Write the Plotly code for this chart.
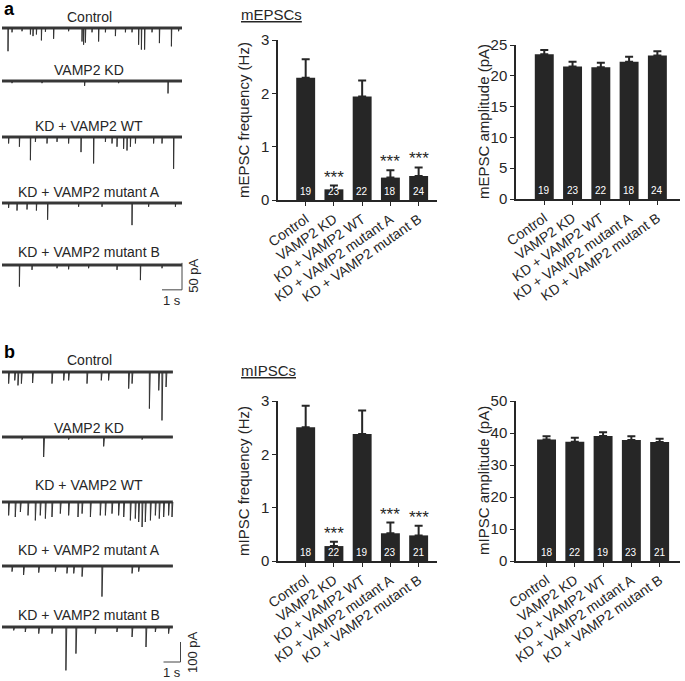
import plotly.graph_objects as go

W, H = 685, 681
FONT = "Liberation Sans, Arial, sans-serif"
INK = "#262626"

# ---------------- data ----------------
conditions = ["Control", "VAMP2 KD", "KD + VAMP2 WT", "KD + VAMP2 mutant A", "KD + VAMP2 mutant B"]

# example mEPSC recordings: event times (s) and amplitudes (pA)
mepsc_ctrl_t = [0.30, 0.50, 1.00, 1.42, 1.55, 1.72, 1.97, 2.17, 2.58, 3.33, 4.00, 4.08, 4.17, 4.50, 4.83, 5.17, 5.67, 6.17, 6.50, 6.83, 6.97, 7.13, 7.50, 7.87, 8.47, 8.83]
mepsc_ctrl_a = [43, 8, 6, 12, 15, 12, 23, 7, 20, 6, 25, 31, 27, 8, 25, 8, 15, 8, 8, 31, 40, 40, 8, 28, 34, 6]
mepsc_kd_t = [0.50, 2.00, 4.13, 5.83, 8.30]
mepsc_kd_a = [4, 4, 9, 4, 23]
mepsc_wt_t = [0.33, 0.87, 1.42, 1.67, 2.25, 2.75, 3.33, 3.95, 4.58, 5.17, 5.50, 5.75, 6.08, 6.25, 6.42, 6.67, 7.58, 8.00, 8.58]
mepsc_wt_a = [12, 18, 43, 9, 12, 9, 12, 28, 49, 9, 12, 18, 22, 25, 18, 12, 12, 12, 59]
mepsc_mutA_t = [0.33, 0.75, 1.25, 1.72, 2.28, 3.83, 5.00, 6.50, 7.33, 8.67]
mepsc_mutA_a = [9, 14, 12, 14, 31, 7, 7, 41, 7, 7]
mepsc_mutB_t = [0.87, 1.50, 2.75, 3.33, 4.33, 5.75, 6.92, 8.00]
mepsc_mutB_a = [40, 9, 6, 8, 6, 9, 28, 6]

# example mIPSC recordings: event times (s) and amplitudes (pA)
mipsc_ctrl_t = [0.39, 0.75, 0.94, 1.14, 1.80, 2.94, 3.63, 3.92, 5.00, 5.84, 6.27, 7.45, 7.65, 8.67, 9.22, 9.41, 9.65]
mipsc_ctrl_a = [58, 42, 67, 58, 55, 58, 42, 42, 58, 42, 42, 83, 58, 183, 92, 242, 75]
mipsc_kd_t = [1.18, 2.45, 3.92, 5.98, 8.24]
mipsc_kd_a = [13, 100, 13, 47, 13]
mipsc_wt_t = [0.39, 0.78, 1.08, 1.53, 1.96, 2.25, 2.55, 2.94, 3.43, 3.92, 4.47, 4.71, 5.20, 5.78, 6.08, 6.47, 6.86, 7.16, 7.55, 7.84, 8.04, 8.24, 8.43, 8.73, 9.02, 9.25, 9.51, 9.80, 10.00]
mipsc_wt_a = [67, 75, 50, 67, 92, 67, 83, 75, 58, 67, 75, 58, 75, 67, 67, 58, 67, 75, 92, 83, 100, 125, 100, 92, 67, 83, 75, 67, 75]
mipsc_mutA_t = [0.59, 1.27, 2.16, 3.14, 3.82, 4.22, 4.71, 5.88, 7.65, 8.04]
mipsc_mutA_a = [28, 45, 33, 28, 37, 37, 53, 153, 37, 28]
mipsc_mutB_t = [0.69, 1.37, 2.16, 2.94, 3.76, 4.35, 5.49, 6.76, 7.65, 8.47, 9.02, 9.80]
mipsc_mutB_a = [17, 25, 33, 33, 217, 133, 33, 25, 50, 100, 25, 33]

# summary statistics
mepsc_freq = [2.29, 0.20, 1.94, 0.42, 0.45]
mepsc_freq_err = [0.35, 0.07, 0.30, 0.14, 0.16]
mepsc_amp = [23.5, 21.5, 21.4, 22.3, 23.3]
mepsc_amp_err = [0.7, 0.8, 0.7, 0.8, 0.7]
mepsc_n = [19, 23, 22, 18, 24]

mipsc_freq = [2.51, 0.28, 2.38, 0.52, 0.48]
mipsc_freq_err = [0.40, 0.08, 0.44, 0.20, 0.18]
mipsc_amp = [38.0, 37.3, 39.1, 37.8, 37.2]
mipsc_amp_err = [1.0, 1.2, 1.1, 1.2, 1.0]
mipsc_n = [18, 22, 19, 23, 21]

significant = [False, True, False, True, True]

# ---------------- helpers ----------------
def px_x(px):
    return px / W

def px_y(py):
    return 1 - py / H

def dom_x(a, b):
    return [px_x(a), px_x(b)]

def dom_y(top, bot):
    return [px_y(bot), px_y(top)]

def recording_xy(times, amps, t_end, rise, decay):
    xs, ys = [0.0], [0.0]
    for t, a in sorted(zip(times, amps)):
        xs += [t - rise, t, t + decay]
        ys += [0.0, -a, 0.0]
    xs.append(t_end)
    ys.append(0.0)
    return xs, ys

fig = go.Figure()
layout = dict(
    width=W, height=H, autosize=False,
    margin=dict(l=0, r=0, t=0, b=0, pad=0, autoexpand=False),
    paper_bgcolor="white", plot_bgcolor="rgba(0,0,0,0)",
    showlegend=False,
    font=dict(family=FONT, color=INK, size=14),
)
annotations = []

# ---------------- example traces ----------------
rec_a = [(mepsc_ctrl_t, mepsc_ctrl_a), (mepsc_kd_t, mepsc_kd_a), (mepsc_wt_t, mepsc_wt_a),
         (mepsc_mutA_t, mepsc_mutA_a), (mepsc_mutB_t, mepsc_mutB_a)]
rec_b = [(mipsc_ctrl_t, mipsc_ctrl_a), (mipsc_kd_t, mipsc_kd_a), (mipsc_wt_t, mipsc_wt_a),
         (mipsc_mutA_t, mipsc_mutA_a), (mipsc_mutB_t, mipsc_mutB_a)]

base_a = [28, 81, 137, 203, 265]
label_a = [17, 70, 126, 192, 252]
base_b = [372, 437, 502, 566, 627]
label_b = [360, 428, 485, 550, 615]

panels = [
    dict(recs=rec_a, bases=base_a, labels=label_a, pxs=20.0, ppp=50 / 27.0, up=10, down=40,
         t_end=9.0, rise=0.004, decay=0.02, bar_len=50, bar_y=-46, bar_text="50 pA", bar_t=9.0),
    dict(recs=rec_b, bases=base_b, labels=label_b, pxs=17.0, ppp=5.0, up=10, down=52,
         t_end=10.05, rise=0.004, decay=0.05, bar_len=100, bar_y=-175, bar_text="100 pA", bar_t=10.5),
]

ax = 0
for p in panels:
    t0 = -2.0 / p["pxs"]
    t1 = t0 + 200.0 / p["pxs"]
    for i, (tt, aa) in enumerate(p["recs"]):
        ax += 1
        xn = "xaxis" if ax == 1 else f"xaxis{ax}"
        yn = "yaxis" if ax == 1 else f"yaxis{ax}"
        xr = "x" if ax == 1 else f"x{ax}"
        yr = "y" if ax == 1 else f"y{ax}"
        b = p["bases"][i]
        layout[xn] = dict(domain=dom_x(0, 200), range=[t0, t1], visible=False, anchor=yr)
        layout[yn] = dict(domain=dom_y(b - p["up"], b + p["down"]),
                          range=[-p["down"] * p["ppp"], p["up"] * p["ppp"]], visible=False, anchor=xr)
        fig.add_trace(go.Scatter(x=[0, p["t_end"]], y=[0, 0], mode="lines",
                                 line=dict(color="#3c3c3c", width=3), xaxis=xr, yaxis=yr,
                                 hoverinfo="skip"))
        xs, ys = recording_xy(tt, aa, p["t_end"], p["rise"], p["decay"])
        fig.add_trace(go.Scatter(x=xs, y=ys, mode="lines",
                                 line=dict(color="#333333", width=1), xaxis=xr, yaxis=yr,
                                 hoverinfo="skip"))
        annotations.append(dict(text=conditions[i], xref="paper", yref="paper",
                                x=px_x(89), y=px_y(p["labels"][i]), showarrow=False,
                                xanchor="center", yanchor="middle",
                                font=dict(size=14, color=INK)))
        if i == 4:
            te = p["bar_t"]
            by = p["bar_y"]
            fig.add_trace(go.Scatter(x=[te - 1, te, te], y=[by, by, by + p["bar_len"]], mode="lines",
                                     line=dict(color="#444444", width=1), xaxis=xr, yaxis=yr,
                                     hoverinfo="skip"))
            annotations.append(dict(text="1 s", xref=xr, yref=yr, x=te - 0.5, y=by,
                                    xanchor="center", yanchor="top", showarrow=False, yshift=-1,
                                    font=dict(size=13, color=INK)))
            annotations.append(dict(text=p["bar_text"], xref=xr, yref=yr, x=te,
                                    y=by + p["bar_len"] / 2, xanchor="left", yanchor="middle",
                                    showarrow=False, xshift=2, textangle=-90,
                                    font=dict(size=13, color=INK)))

# ---------------- bar charts ----------------
charts = [
    dict(vals=mepsc_freq, err=mepsc_freq_err, n=mepsc_n, stars=True, xd=(278, 437), xr=[-0.98, 4.65],
         yd=(40, 200), yr=[0, 3], dt=1, title="mEPSC frequency (Hz)", tx=243),
    dict(vals=mepsc_amp, err=mepsc_amp_err, n=mepsc_n, stars=False, xd=(516, 680), xr=[-1.0, 4.8],
         yd=(45, 199), yr=[0, 25], dt=5, title="mEPSC amplitude (pA)", tx=483),
    dict(vals=mipsc_freq, err=mipsc_freq_err, n=mipsc_n, stars=True, xd=(278, 437), xr=[-0.98, 4.65],
         yd=(401, 561), yr=[0, 3], dt=1, title="mIPSC frequency (Hz)", tx=243),
    dict(vals=mipsc_amp, err=mipsc_amp_err, n=mipsc_n, stars=False, xd=(516, 680), xr=[-1.08, 4.72],
         yd=(401, 561), yr=[0, 50], dt=10, title="mIPSC amplitude (pA)", tx=483),
]

for c in charts:
    ax += 1
    xn, yn, xr, yr = f"xaxis{ax}", f"yaxis{ax}", f"x{ax}", f"y{ax}"
    layout[xn] = dict(domain=dom_x(*c["xd"]), range=c["xr"], type="category", anchor=yr,
                      showline=True, linecolor=INK, linewidth=1.5, ticks="outside", ticklen=4,
                      tickwidth=1.2, tickcolor=INK, tickangle=-35, showgrid=False, zeroline=False,
                      tickfont=dict(size=14, color=INK), fixedrange=True)
    layout[yn] = dict(domain=dom_y(*c["yd"]), range=c["yr"], anchor=xr, dtick=c["dt"],
                      showline=True, linecolor=INK, linewidth=1.5, ticks="outside", ticklen=4,
                      tickwidth=1.2, tickcolor=INK, showgrid=False, zeroline=False,
                      tickfont=dict(size=15, color=INK), fixedrange=True)
    fig.add_trace(go.Bar(x=conditions, y=c["vals"], width=0.67, marker=dict(color=INK, line=dict(width=0)),
                         error_y=dict(type="data", symmetric=False, array=c["err"],
                                      arrayminus=[0] * len(c["err"]), color=INK, thickness=2, width=4),
                         xaxis=xr, yaxis=yr, hoverinfo="skip"))
    for cat, v, e, n, s in zip(conditions, c["vals"], c["err"], c["n"], significant):
        annotations.append(dict(text=str(n), xref=xr, yref=yr, x=cat, y=0, xanchor="center",
                                yanchor="bottom", yshift=1, showarrow=False,
                                font=dict(size=10, color="white")))
        if c["stars"] and s:
            annotations.append(dict(text="***", xref=xr, yref=yr, x=cat, y=v + e, xanchor="center",
                                    yanchor="bottom", yshift=-3, showarrow=False,
                                    font=dict(size=17, color=INK)))
    ymid = (c["yd"][0] + c["yd"][1]) / 2
    annotations.append(dict(text=c["title"], xref="paper", yref="paper", x=px_x(c["tx"]), y=px_y(ymid),
                            textangle=-90, showarrow=False, xanchor="center", yanchor="middle",
                            font=dict(size=15, color=INK)))

# titles and panel letters
annotations.append(dict(text="<u>mEPSCs</u>", xref="paper", yref="paper", x=px_x(271), y=px_y(15),
                        xanchor="center", yanchor="middle", showarrow=False,
                        font=dict(size=15, color=INK)))
annotations.append(dict(text="<u>mIPSCs</u>", xref="paper", yref="paper", x=px_x(268), y=px_y(370),
                        xanchor="center", yanchor="middle", showarrow=False,
                        font=dict(size=15, color=INK)))
annotations.append(dict(text="<b>a</b>", xref="paper", yref="paper", x=px_x(9), y=1,
                        xanchor="center", yanchor="top", yshift=3, showarrow=False,
                        font=dict(size=18, color="black")))
annotations.append(dict(text="<b>b</b>", xref="paper", yref="paper", x=px_x(9), y=px_y(352),
                        xanchor="center", yanchor="middle", showarrow=False,
                        font=dict(size=18, color="black")))

layout["annotations"] = annotations
fig.update_layout(**layout)
fig.write_html("out.html", config=dict(displayModeBar=False),
               post_script="document.body.style.margin='0';document.body.style.padding='0';")
